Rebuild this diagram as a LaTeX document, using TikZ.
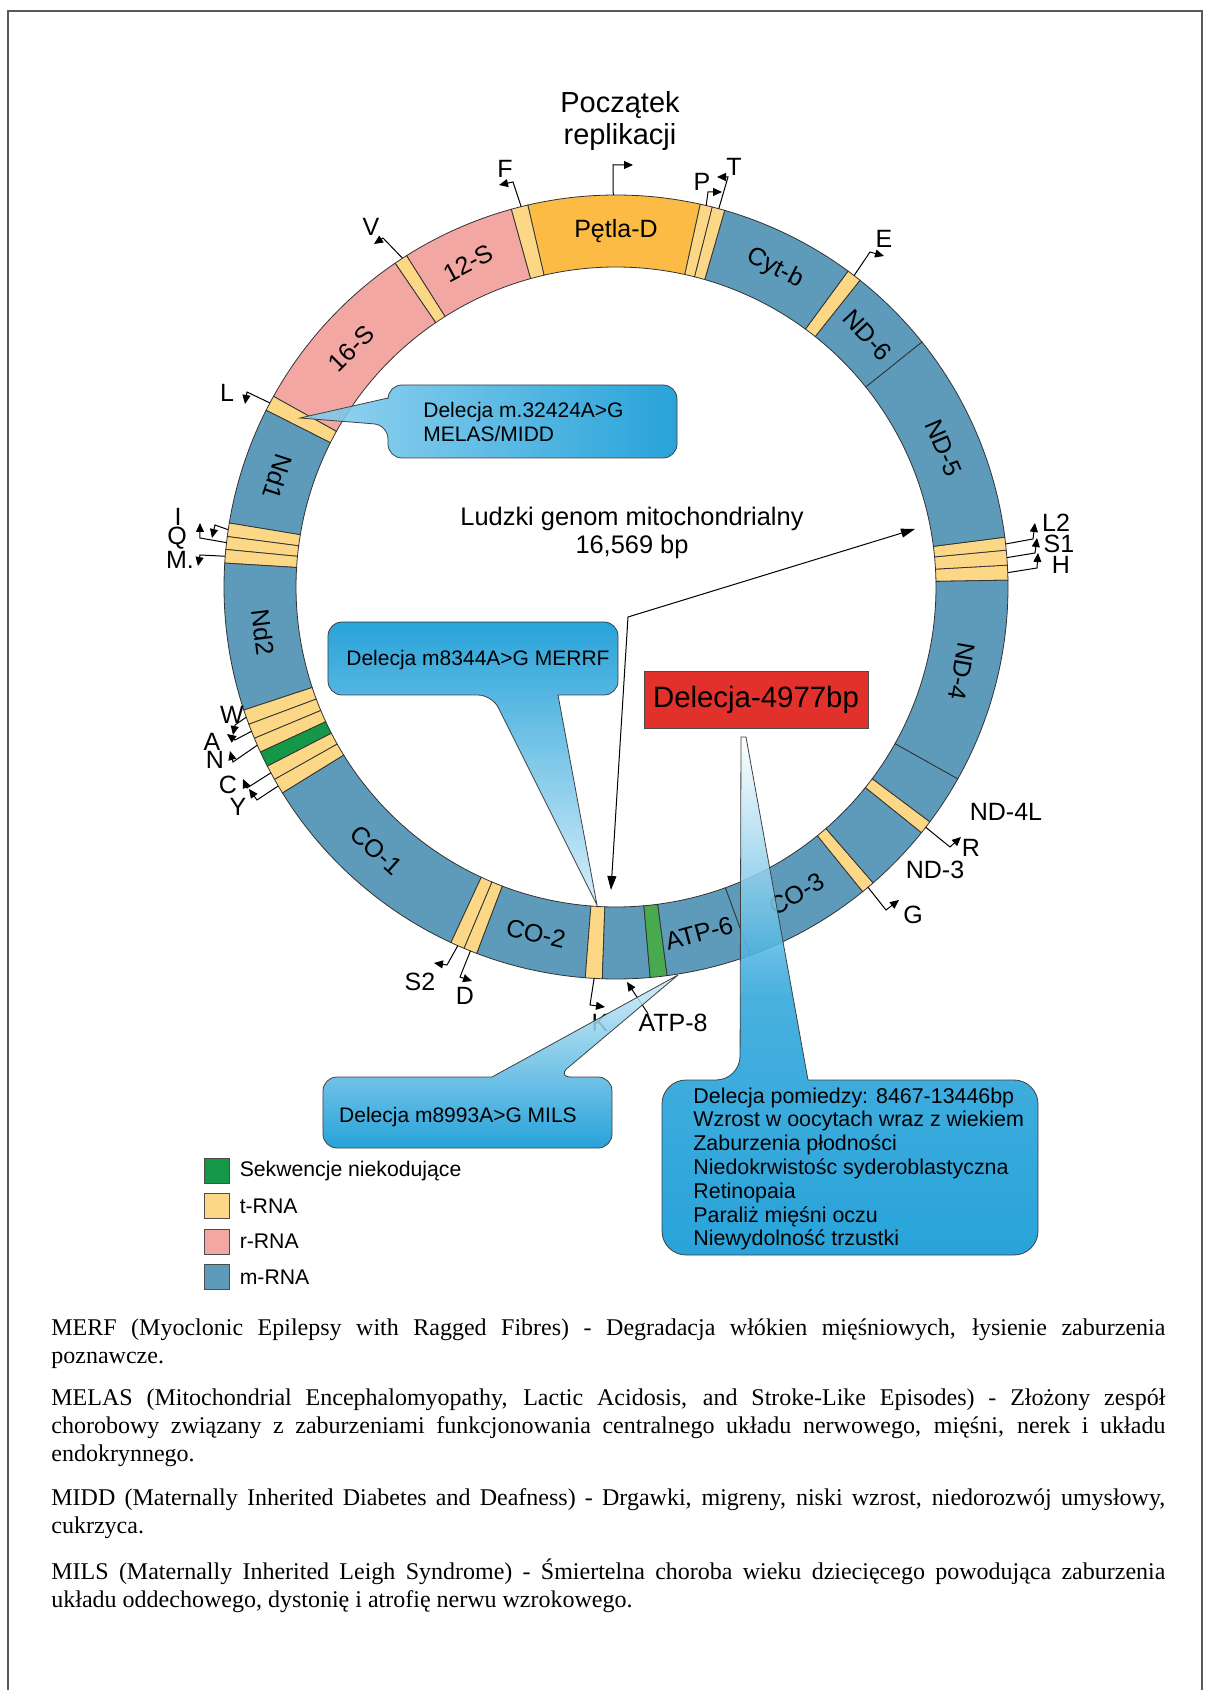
\documentclass[tikz,border=0pt]{standalone}
\usepackage{fontspec}
\setmainfont{Liberation Serif}
\setsansfont{Liberation Sans}
\usetikzlibrary{arrows.meta,positioning}

\hyphenpenalty=10000
\exhyphenpenalty=10000

\definecolor{mrna}{HTML}{5E9BBB}
\definecolor{trna}{HTML}{FCD886}
\definecolor{rrna}{HTML}{F3A7A3}
\definecolor{dloop}{HTML}{FBBB45}
\definecolor{ncod}{HTML}{149848}
\definecolor{ncodlt}{HTML}{49A94F}
\definecolor{cbdark}{HTML}{0A96D4}
\definecolor{cblight}{HTML}{8ACFEE}
\definecolor{cbpale}{HTML}{D2ECF8}
\definecolor{delred}{HTML}{E2302B}

\tikzset{
	seg/.style={draw=black!80, line width=0.4pt},
	seglab/.style={font=\sffamily\fontsize{12.5}{14}\selectfont, inner sep=0pt},
	trlab/.style={font=\sffamily\fontsize{12.5}{14}\selectfont, inner sep=0pt},
	trmark/.style={->, line width=0.5pt},
	bubble/.style={draw=black!75, line width=0.4pt, fill opacity=0.88},
	calltext/.style={font=\sffamily\fontsize{10.5}{12}\selectfont, inner sep=0pt},
	infotext/.style={font=\sffamily\fontsize{10.7}{11.9}\selectfont, inner sep=0pt, align=left, anchor=west},
	legbox/.style={draw=black!70, minimum size=12.5pt, inner sep=0pt},
	legtext/.style={font=\sffamily\fontsize{10.6}{12}\selectfont, inner sep=0pt},
	notetext/.style={font=\rmfamily\fontsize{12}{14}\selectfont, text width=557pt, align=justify, anchor=north west, inner sep=0pt},
	pageframe/.style={draw=black!65, line width=1pt},
}

\begin{document}
\begin{tikzpicture}[x=0.5pt, y=0.5pt, font=\sffamily, >={Triangle[length=4.5pt,width=4pt]}]
	\useasboundingbox (-616,587) rectangle (594,-1103);

	% Ring segments, anticlockwise from the H tRNA
	\foreach \a/\b/\col in {
		1/3.2/trna, 3.2/5.4/trna, 5.4/7.3/trna, 7.3/38.7/mrna, 38.7/51.5/mrna,
		51.5/53.7/trna, 53.7/73.9/mrna, 73.9/75.8/trna, 75.8/77.6/trna,
		77.6/103/dloop, 103/105.5/trna, 105.5/122.3/rrna, 122.3/124.3/trna,
		124.3/150.9/rrna, 150.9/153.2/trna, 153.2/170.6/mrna,
		170.6/172.6/trna, 172.6/174.5/trna, 174.5/176.5/trna, 176.5/198.3/mrna,
		198.3/200.5/trna, 200.5/202.7/trna, 202.7/204.9/trna, 204.9/207.2/ncod,
		207.2/209.4/trna, 209.4/211.7/trna, 211.7/245.1/mrna,
		245.1/247.2/trna, 247.2/249.2/trna, 249.2/265.5/mrna, 265.5/268/trna,
		268/275/mrna, 275/277.5/ncodlt, 277.5/290/mrna, 290/309/mrna,
		309/311/trna, 311/321.2/mrna, 321.2/323.2/trna, 323.2/330.7/mrna,
		330.7/361/mrna} {
			\draw [seg, fill=\col] (\a:320) arc [start angle=\a, end angle=\b, radius=320]
				-- (\b:392) arc [start angle=\b, end angle=\a, radius=392] -- cycle;
			}

	% Gene names along the ring
	\foreach \ang/\rot/\txt [count=\i] in {
		90/0/Pętla-D, 114.5/28/12-S, 138/45/16-S, 63.5/-27/Cyt-b,
		45/-47/ND-6, 23/-67/ND-5, -13.7/-100/ND-4, 162/-108/Nd1,
		187.3/-83/Nd2, 227.7/-42/CO-1, 257/-13/CO-2, 283.5/15/ATP-6,
		300.5/30/CO-3} {
			\node [seglab, rotate=\rot] (gene\i) at (\ang:356) {\txt};
			}

	% tRNA flags: base on the ring, knee, tip, letter
	\foreach \id/\txt/\ang/\kx/\ky/\tx/\ty/\lx/\ly in {
		F/F/104/-103/405/-117/402/-111/418,
		V/V/123/-233/349/-242/343/-245/360,
		L/L/152/-369/195/-371/183/-389/194,
		P/P/76.7/92/395/106/395/86/405,
		T/T/74.8/112/410/101/410/118/420,
		E/E/52.6/254/335/268/331/268/348,
		Ltwo/L2/6.3/417/48/419/64/440/64,
		Sone/S1/4.3/419/34/421/49/443/43,
		H/H/2.1/421/19/422/34/445/22,
		R/R/322.2/334/-260/345/-250/355/-261,
		G/G/310/270/-323/283/-313/297/-328,
		I/I/171.6/-401/62/-404/49/-438/70,
		Q/Q/173.5/-416/49/-416/64/-439/49,
		M/M./175.5/-416/32/-418/21/-436/27,
		W/W/199.4/-381/-138/-383/-148/-384/-128,
		A/A/201.6/-381/-153/-389/-147/-404/-155,
		N/N/203.8/-383/-175/-386/-164/-401/-173,
		C/C/208.3/-369/-201/-373/-192/-388/-198,
		Y/Y/210.5/-359/-213/-367/-202/-378/-220,
		Stwo/S2/246.2/-169/-378/-182/-376/-196/-395,
		D/D/248.2/-156/-390/-144/-394/-151/-409,
		K/K/266.8/-26/-418/-11/-420/-16/-436} {
			\coordinate (\id-base) at (\ang:392);
			\coordinate (\id-knee) at (\kx,\ky);
			\coordinate (\id-tip) at (\tx,\ty);
			\node [trlab] (\id) at (\lx,\ly) {\txt};
			\draw [trmark] (\id-base) -- (\id-knee) -- (\id-tip);
			}

	% Origin of replication
	\node [font=\sffamily\fontsize{14.5}{16}\selectfont, align=center] (origin) at (4,466) {Początek\\replikacji};
	\coordinate (ori-base) at (90.4:392);
	\coordinate (ori-knee) at (-3,422);
	\coordinate (ori-tip) at (17,422);
	\draw [trmark] (ori-base) -- (ori-knee) -- (ori-tip);

	% Outside gene names
	\node [trlab] (nd4l) at (390,-225) {ND-4L};
	\node [trlab] (nd3) at (319,-283) {ND-3};
	\node [trlab] (atp8) at (57,-436) {ATP-8};
	\coordinate (atp8-tip) at (11,-395);
	\draw [trmark] ([xshift=5pt]atp8.north west) -- (atp8-tip);

	% Genome size and the bent double arrow
	\node [font=\sffamily\fontsize{12.7}{14}\selectfont, align=center] (genome) at (16,54) {Ludzki genom mitochondrialny\\16,569 bp};
	\coordinate (span-nd5) at (299,58);
	\coordinate (span-knee) at (12,-30);
	\coordinate (span-atp) at (-5,-303);
	\draw [<->, >={Triangle[length=7pt,width=4.5pt]}, line width=0.5pt] (span-nd5) -- (span-knee) -- (span-atp);

	% Red deletion box
	\node [draw=black!70, fill=delred, minimum width=112pt, minimum height=28.5pt,
		font=\sffamily\fontsize{14.7}{16}\selectfont] (del4977) at (140,-112.5) {Delecja-4977bp};

	% Speech bubbles
	\path [bubble, left color=cblight, right color=cbdark]
		(-228,189) [rounded corners=7pt] -- (-228,202) -- (61,202) -- (61,129) -- (-228,129)
		-- (-228,162) [sharp corners] -- (-316,169) -- cycle;
	\path [bubble, top color=cbdark, bottom color=cbpale]
		(-58,-108) [rounded corners=7pt] -- (2,-108) -- (2,-35) -- (-288,-35) -- (-288,-108)
		-- (-124,-108) [sharp corners] -- (-19,-318) -- cycle;
	\path [bubble, top color=cbpale, bottom color=cbdark]
		(-124,-490) [rounded corners=7pt] -- (-293,-490) -- (-293,-561) -- (-4,-561) -- (-4,-490)
		-- (-59,-490) [sharp corners] -- (62,-388) -- cycle;
	\path [bubble, top color=white, bottom color=cbdark, middle color=cbdark!85]
		(192,-493) [rounded corners=12pt] -- (422,-493) -- (422,-668) -- (46,-668) -- (46,-493)
		-- (124,-493) [sharp corners] -- (125,-150) -- (130,-150) -- cycle;

	\node [calltext, align=left, anchor=west] (melas) at (-193,165) {Delecja m.32424A>G\\MELAS/MIDD};
	\node [calltext] (merrf) at (-138,-73) {Delecja m8344A>G MERRF};
	\node [calltext] (mils) at (-158,-530) {Delecja m8993A>G MILS};
	\node [infotext] (delinfo) at (77,-582) {Delecja pomiedzy: 8467-13446bp\\Wzrost w oocytach wraz z wiekiem\\Zaburzenia płodności\\Niedokrwistośc syderoblastyczna\\Retinopaia\\Paraliż mięśni oczu\\Niewydolność trzustki};

	% Legend
	\foreach \col/\txt [count=\i] in {ncod/Sekwencje niekodujące, trna/t-RNA, rrna/r-RNA, mrna/m-RNA} {
		\node [legbox, fill=\col] (key\i) at (-399.5,{-584-35.3*(\i-1)}) {};
		\node [legtext, right=5pt of key\i] (keytxt\i) {\txt};
		}

	% Notes under the diagram
	\node [notetext] (noteMERF) at (-565,-731) {MERF (Myoclonic Epilepsy with Ragged Fibres) - Degradacja włókien mięśniowych, łysienie zaburzenia\linebreak poznawcze.};
	\node [notetext] (noteMELAS) at (-565,-801) {MELAS (Mitochondrial Encephalomyopathy, Lactic Acidosis, and Stroke-Like Episodes) - Złożony zespół chorobowy związany z zaburzeniami funkcjonowania centralnego układu nerwowego, mięśni, nerek i układu endokrynnego.};
	\node [notetext] (noteMIDD) at (-565,-901) {MIDD (Maternally Inherited Diabetes and Deafness) - Drgawki, migreny, niski wzrost, niedorozwój umysłowy, cukrzyca.};
	\node [notetext] (noteMILS) at (-565,-971) {MILS (Maternally Inherited Leigh Syndrome) - Śmiertelna choroba wieku dziecięcego powodująca zaburzenia układu oddechowego, dystonię i atrofię nerwu wzrokowego.};

	% Page frame
	\draw [pageframe] (-608,-1120) -- (-608,576) -- (586,576) -- (586,-1120);

\end{tikzpicture}
\end{document}
